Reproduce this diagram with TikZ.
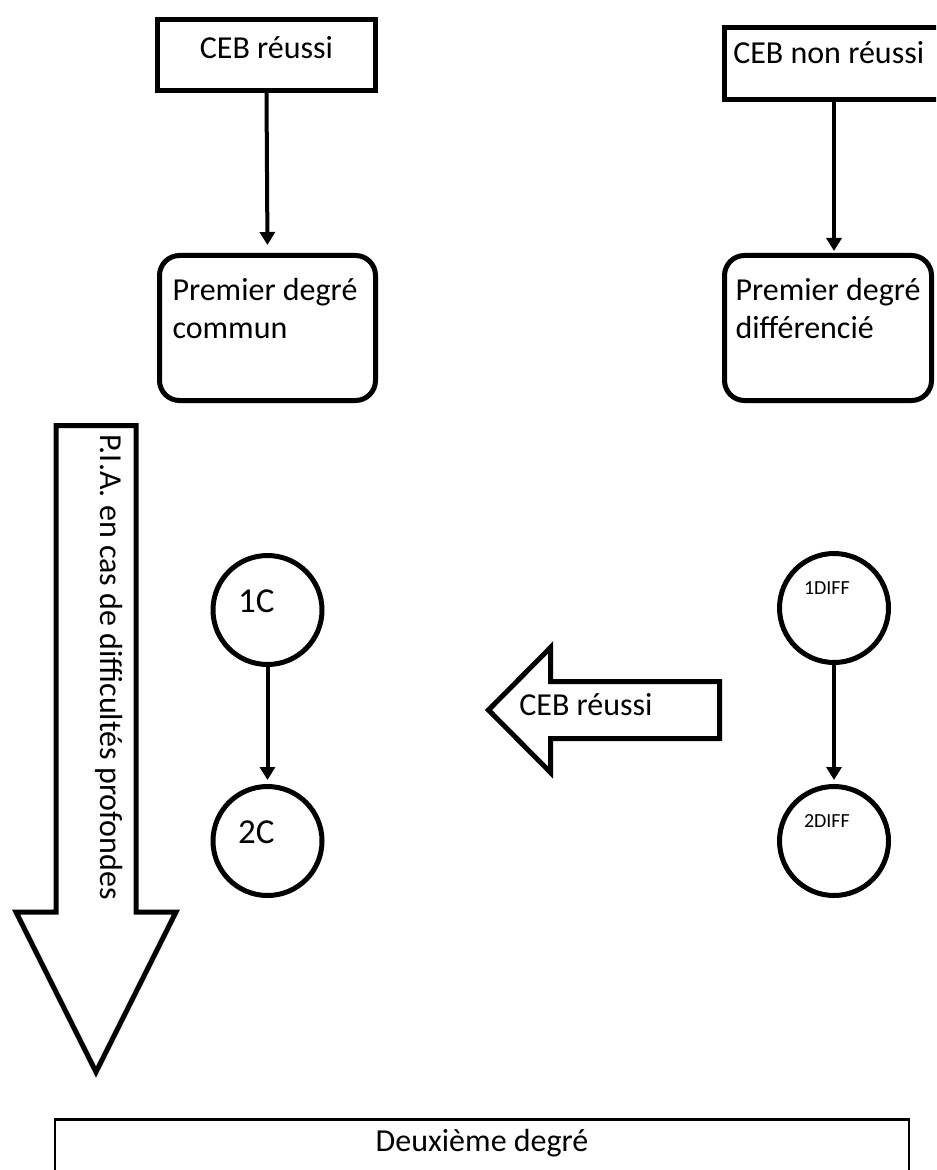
\documentclass[tikz,border=0pt]{standalone}
\usepackage{fontspec}
\setmainfont{Carlito}
\usetikzlibrary{arrows.meta, positioning}

\begin{document}
\begin{tikzpicture}[
  x=0.5pt, y=-0.5pt,
  stage/.style={rectangle, draw, line width=2.5pt, inner sep=0pt, font=\fontsize{16}{18.75}\selectfont},
  degree/.style={stage, rounded corners=10pt, minimum height=72.5pt, align=flush left, text height=12pt, text depth=39pt},
  bubble/.style={circle, draw, line width=2.5pt, inner sep=0pt, minimum size=54.5pt, align=flush left},
  bigtext/.style={font=\fontsize{17.5}{21}\selectfont, text width=29.5pt, text height=12pt, text depth=10pt},
  smalltext/.style={font=\fontsize{10}{12}\selectfont, text width=30pt, text height=7pt, text depth=21pt},
  arr/.style={-{Triangle[length=6.5pt, width=7.5pt]}, line width=2pt},
  block/.style={draw, line width=2.5pt, line join=miter},
  lbl/.style={inner sep=0pt, font=\fontsize{16}{18.75}\selectfont}
]
\useasboundingbox (0,0) rectangle (936,1170);
\clip (0,0) rectangle (936,1170);

% Top Row Nodes
\node[stage, minimum width=109pt, minimum height=35.5pt, text height=12pt, text depth=8pt] (ceb) at (266.5,55) {CEB réussi};
\node[stage, minimum width=110pt, minimum height=36pt, text width=101.5pt, inner xsep=4.25pt, align=flush left, text height=12pt, text depth=11.5pt] (cebno) at (834.75,63.5) {CEB non réussi};

% First Degree Nodes
\node[degree, text width=95pt, inner xsep=6.5pt] (commun) at (267.5,328) {Premier degré\\commun};
\node[degree, minimum width=103.5pt, text height=30.75pt, text depth=20.25pt] (diff) at (828,328) {Premier degré\\différencié};

% Year Circles
\node[bubble, bigtext] (c1) at (267.5,610) {1C};
\node[bubble, bigtext, below=58.5pt of c1] (c2) {2C};
\node[bubble, smalltext] (d1) at (834,608) {1DIFF};
\node[bubble, smalltext, below=59.5pt of d1] (d2) {2DIFF};

% Second Degree (runs off the bottom)
\node[stage, line width=1.3pt, anchor=north, minimum width=427pt, text height=16pt, text depth=50pt] (deux) at (482,1118) {Deuxième degré};

% Flow Arrows
\draw[arr, shorten >=4pt] (ceb.south) -- (commun.north);
\draw[arr, shorten >=1pt] (cebno.south -| d1.center) -- (diff.north -| d1.center);
\draw[arr, shorten >=2pt] (c1) -- (c2);
\draw[arr, shorten >=2pt] (d1) -- (d2);

% Block Arrow: CEB passed, back to the common path
\coordinate (back) at (488.5,710);
\draw[block] (back) -- ++(62,-62.5) -- ++(0,34) -- ++(169,0) -- ++(0,57) -- ++(-169,0) -- ++(0,34) -- cycle;
\node[lbl, anchor=base west] (backlbl) at (519,715) {CEB réussi};

% Block Arrow: P.I.A. down to second degree
\coordinate (pia) at (96,425.5);
\draw[block] (pia) ++(-40,0) -- ++(80,0) -- ++(0,486.5) -- ++(40,0) -- ++(-80,160) -- ++(-80,-160) -- ++(40,0) -- cycle;
\node[lbl, rotate=-90, anchor=base west] (pialbl) at (100,434) {P.I.A. en cas de difficultés profondes};

\end{tikzpicture}
\end{document}
